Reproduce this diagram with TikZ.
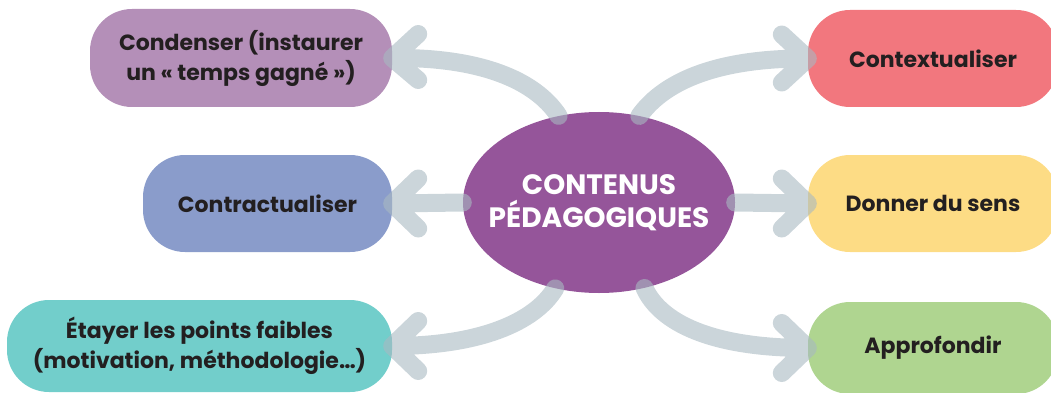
\documentclass[tikz,border=0pt]{standalone}
\usepackage{fontspec}
\setmainfont{Poppins}
\usetikzlibrary{shapes.geometric}
\definecolor{cPurpleBox}{RGB}{180,143,184}
\definecolor{cBlueBox}{RGB}{138,156,203}
\definecolor{cTealBox}{RGB}{114,206,203}
\definecolor{cRedBox}{RGB}{242,119,126}
\definecolor{cYellowBox}{RGB}{253,220,133}
\definecolor{cGreenBox}{RGB}{175,213,144}
\definecolor{cCenter}{RGB}{149,85,154}
\definecolor{cArrow}{RGB}{168,185,193}
\definecolor{cText}{RGB}{35,31,32}
\begin{document}
\begin{tikzpicture}[x=1pt,y=-1pt,
  blob/.style={rounded corners=42pt, inner sep=0pt, align=center, text=cText,
    font=\fontsize{22}{30}\selectfont\bfseries},
  hub/.style={ellipse, inner xsep=-24pt, inner ysep=0pt, fill=cCenter, text=white, align=center,
    minimum width=272pt, minimum height=181pt,
    font=\fontsize{28}{33}\selectfont\bfseries},
  link/.style={draw=cArrow, line width=18pt, line cap=round, line join=round, opacity=0.6}]
\useasboundingbox (0,0) rectangle (1051,393);
% boxes
\node[blob, fill=cPurpleBox, minimum width=302pt, minimum height=98pt] (b1) at (241,58) {Condenser (instaurer\\un « temps gagné »)};
\node[blob, fill=cBlueBox, minimum width=249pt, minimum height=97pt] (b2) at (267.5,203.5) {Contractualiser};
\node[blob, fill=cTealBox, minimum width=385pt, minimum height=92pt] (b3) at (199.5,346) {Étayer les points faibles\\(motivation, méthodologie…)};
\node[blob, fill=cRedBox, minimum width=250pt, minimum height=97pt] (r1) at (933,58.5) {Contextualiser};
\node[blob, fill=cYellowBox, minimum width=250pt, minimum height=97pt] (r2) at (933,203.5) {Donner du sens};
\node[blob, fill=cGreenBox, minimum width=250pt, minimum height=92pt] (r3) at (933,348) {Approfondir};
% hub
\node[hub] (c) at (599,202.5) {CONTENUS\\PÉDAGOGIQUES};
% connectors
\draw[link] (c.115) .. controls (535,80) and (480,57) .. (b1.east)
  ++(26,-24) -- (b1.east) -- ++(26,22);
\draw[link] (c.west) -- (b2.east)
  ++(26,-25) -- (b2.east) -- ++(26,25);
\draw[link] (c.243) .. controls (535,322) and (480,346) .. (b3.east)
  ++(26,-25) -- (b3.east) -- ++(26,25);
\draw[link] (c.65) .. controls (665,80) and (720,58) .. (r1.west)
  ++(-26,-24) -- (r1.west) -- ++(-26,24);
\draw[link] (c.east) -- (r2.west)
  ++(-26,-25) -- (r2.west) -- ++(-26,25);
\draw[link] (c.298) .. controls (660,322) and (710,348) .. (r3.west)
  ++(-26,-25) -- (r3.west) -- ++(-26,25);
\end{tikzpicture}
\end{document}
